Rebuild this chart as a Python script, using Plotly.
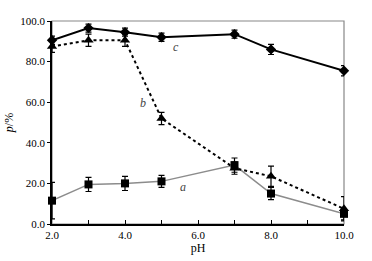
import plotly.graph_objects as go

ph = [2, 3, 4, 5, 7, 8, 10]
a_vals = [11.5, 19.5, 20, 21, 29, 15, 5]
a_err = [9, 3.5, 3.5, 3, 3.5, 3, 3]
b_vals = [87.5, 90.5, 90.5, 52, 27.5, 23.5, 7.5]
b_err = [3, 3, 3, 3, 3, 5, 6]
c_vals = [90.5, 96.5, 94.5, 92, 93.5, 86, 75.5]
c_err = [2, 2, 2, 2, 2, 2.5, 2.5]

FONT = "Liberation Serif"

fig = go.Figure()
fig.add_trace(go.Scatter(x=ph, y=a_vals, mode="lines+markers",
    line=dict(color="#8c8c8c", width=1.5),
    marker=dict(symbol="square", size=8, color="black"),
    error_y=dict(type="data", array=a_err, color="black", thickness=1.2, width=3),
    cliponaxis=False))
fig.add_trace(go.Scatter(x=ph, y=b_vals, mode="lines+markers",
    line=dict(color="black", width=2, dash="dot"),
    marker=dict(symbol="triangle-up", size=9, color="black"),
    error_y=dict(type="data", array=b_err, color="black", thickness=1.2, width=3),
    cliponaxis=False))
fig.add_trace(go.Scatter(x=ph, y=c_vals, mode="lines+markers",
    line=dict(color="black", width=2),
    marker=dict(symbol="diamond", size=8, color="black"),
    error_y=dict(type="data", array=c_err, color="black", thickness=1.2, width=3),
    cliponaxis=False))

for txt, x, y in [("a", 5.6, 18), ("b", 4.5, 59.5), ("c", 5.4, 87)]:
    fig.add_annotation(x=x, y=y, text="<i>" + txt + "</i>", showarrow=False,
        font=dict(family=FONT, size=12, color="#444444"))

fig.add_shape(type="rect", xref="paper", yref="paper", x0=0, x1=1, y0=0, y1=1,
    line=dict(color="#888888", width=1.2), layer="below")

fig.update_layout(
    width=372, height=261, margin=dict(l=52, r=28, t=21, b=37, autoexpand=False),
    paper_bgcolor="white", plot_bgcolor="white", showlegend=False,
    font=dict(family=FONT, size=11, color="black"),
    xaxis=dict(range=[2, 10], tickvals=[2, 4, 6, 8, 10], ticktext=["2.0", "4.0", "6.0", "8.0", "10.0"],
        ticks="inside", ticklen=4, tickcolor="black", showgrid=False, zeroline=False,
        showline=True, linecolor="black", linewidth=1.5, automargin=False,
        minor=dict(tickvals=[3, 5, 7, 9], ticks="inside", ticklen=4, tickcolor="black"),
        title=dict(text="pH", standoff=2, font=dict(family=FONT, size=12))),
    yaxis=dict(range=[0, 100], tickvals=[0, 20, 40, 60, 80, 100],
        ticktext=["0.0", "20.0", "40.0", "60.0", "80.0", "100.0"],
        ticks="outside", ticklen=3, tickcolor="black", showgrid=False, zeroline=False,
        showline=True, linecolor="black", linewidth=1.5, automargin=False,
        title=dict(text="<i>p</i>/%", standoff=4, font=dict(family=FONT, size=12))),
)

fig.write_html("out.html", config={"displayModeBar": False},
    post_script="document.body.style.margin='0';document.body.style.overflow='hidden';")
